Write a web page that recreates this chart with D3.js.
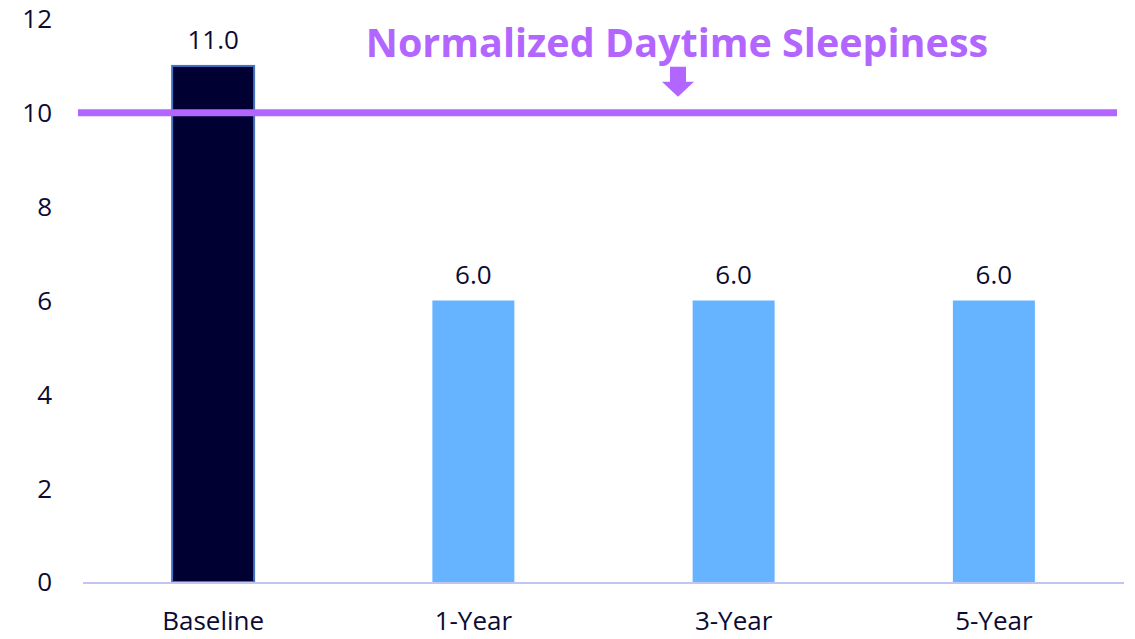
<!DOCTYPE html>
<html><head><meta charset="utf-8">
<script src="https://cdn.jsdelivr.net/npm/d3@7"></script>
<style>body{margin:0;background:#fff}svg{display:block}</style>
</head><body><svg id="c" width="1135" height="639"></svg>
<script>
const categories = ["Baseline","1-Year","3-Year","5-Year"];
const values = [11.0, 6.0, 6.0, 6.0];
const yTicks = [0,2,4,6,8,10,12];
const refValue = 10;
const refLabel = "Normalized Daytime Sleepiness";

const svg = d3.select("#c");
const font = "'Open Sans', 'Noto Sans', sans-serif";
const fs = 26;
const x = d3.scaleBand().domain(categories).range([83,1124]).padding(0);
const y = d3.scaleLinear().domain([0,12]).range([582,19]);
const barW = x.bandwidth()*0.315;

// y tick labels
svg.append("g").selectAll("text").data(yTicks).join("text")
  .attr("x",52).attr("y",d=>y(d)).attr("dy","0.36em")
  .attr("text-anchor","end").attr("font-family",font).attr("font-size",fs)
  .attr("fill","#0B0B33").text(d=>d);

// bars
svg.append("g").selectAll("rect").data(values).join("rect")
  .attr("x",(d,i)=>x(categories[i])+x.bandwidth()/2-barW/2)
  .attr("y",d=>y(d)).attr("width",barW).attr("height",d=>y(0)-y(d))
  .attr("fill",(d,i)=>i===0?"#000033":"#66B3FF")
  .attr("stroke",(d,i)=>i===0?"#4472C4":"none").attr("stroke-width",2);

// axis line
svg.append("line").attr("x1",83).attr("x2",1124).attr("y1",y(0)+1).attr("y2",y(0)+1)
  .attr("stroke","#C4C4F4").attr("stroke-width",2);

// value labels
svg.append("g").selectAll("text").data(values).join("text")
  .attr("x",(d,i)=>x(categories[i])+x.bandwidth()/2).attr("y",d=>y(d)-17)
  .attr("text-anchor","middle").attr("font-family",font).attr("font-size",fs)
  .attr("fill","#0B0B33").text(d=>d.toFixed(1));

// category labels
svg.append("g").selectAll("text").data(categories).join("text")
  .attr("x",d=>x(d)+x.bandwidth()/2).attr("y",630)
  .attr("text-anchor","middle").attr("font-family",font).attr("font-size",fs)
  .attr("fill","#0B0B33").text(d=>d);

// reference line
svg.append("line").attr("x1",78).attr("x2",1117).attr("y1",y(refValue)).attr("y2",y(refValue))
  .attr("stroke","#B266FF").attr("stroke-width",7);

// reference label
svg.append("text").attr("x",677).attr("y",57).attr("text-anchor","middle")
  .attr("font-family",font).attr("font-weight","bold").attr("font-size",39.5)
  .attr("fill","#B266FF").text(refLabel);

// arrow
const ax = 678, ay = y(refValue);
svg.append("path")
  .attr("d",`M${ax-8},${ay-46} L${ax+8},${ay-46} L${ax+8},${ay-31} L${ax+16},${ay-31} L${ax},${ay-16} L${ax-16},${ay-31} L${ax-8},${ay-31} Z`)
  .attr("fill","#B266FF");
</script></body></html>
